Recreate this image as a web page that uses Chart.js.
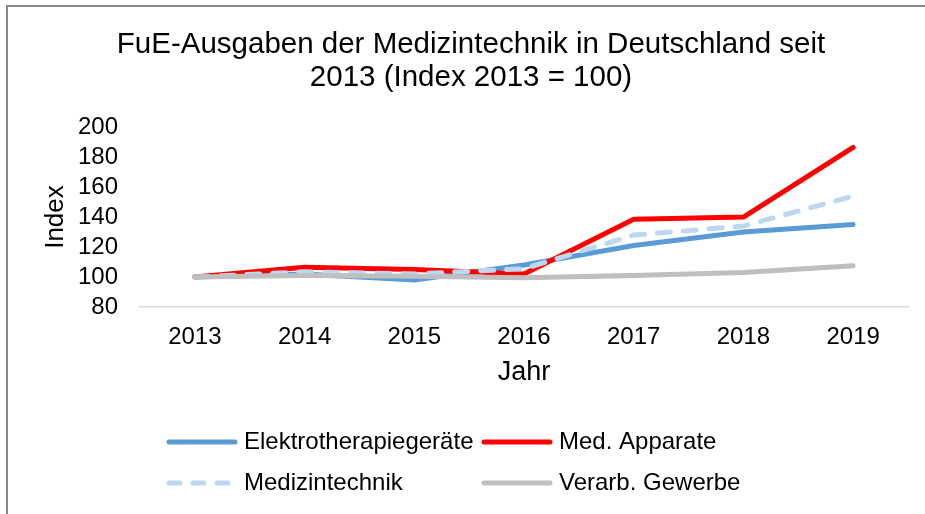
<!DOCTYPE html>
<html lang="de">
<head>
<meta charset="utf-8">
<title>FuE-Ausgaben der Medizintechnik</title>
<script src="https://cdn.jsdelivr.net/npm/chart.js@4.4.1/dist/chart.umd.min.js"></script>
<style>
    html, body { margin: 0; padding: 0; background: #fff; }
    #frame {
        position: absolute; left: 6px; top: 5px; width: 1000px; height: 600px;
        border-left: 2px solid #878787; border-top: 2px solid #878787;
    }
    #wrap { position: absolute; left: 0; top: 0; width: 925px; height: 514px; }
</style>
</head>
<body>
<div id="frame"></div>
<div id="wrap"><canvas id="fueChart"></canvas></div>
<script>
// Data
const years = ['2013', '2014', '2015', '2016', '2017', '2018', '2019'];
const elektrotherapie = [100, 102, 98, 108, 121, 130, 135];
const medApparate = [100, 106.5, 105, 102, 138.5, 140, 186.5];
const medizintechnik = [100, 103.5, 102, 105.5, 128, 134, 154];
const verarbGewerbe = [100, 101, 100.5, 99.5, 101, 103, 107.5];

const titleLines = ['FuE-Ausgaben der Medizintechnik in Deutschland seit', '2013 (Index 2013 = 100)'];
const FONT = "'Liberation Sans', Arial, sans-serif";

// Legend laid out as a 2x2 grid like in the original
const LEGEND_COLS = [166, 481];
const LEGEND_ROWS = [442, 483];
const LEGEND_LINE = 72;

const legendGrid = {
    id: 'legendGrid',
    afterDraw(chart) {
        const ctx = chart.ctx;
        ctx.save();
        chart.data.datasets.forEach((ds, i) => {
            const x = LEGEND_COLS[i % 2];
            const y = LEGEND_ROWS[Math.floor(i / 2)];
            ctx.beginPath();
            ctx.strokeStyle = ds.borderColor;
            ctx.lineWidth = ds.borderWidth;
            ctx.lineCap = 'round';
            ctx.setLineDash(ds.borderDash ? [11, 13] : []);
            ctx.moveTo(x + 3, y);
            ctx.lineTo(x + LEGEND_LINE - 3, y);
            ctx.stroke();
            ctx.setLineDash([]);
            ctx.fillStyle = '#000';
            ctx.font = `24px ${FONT}`;
            ctx.textBaseline = 'middle';
            ctx.textAlign = 'left';
            ctx.fillText(ds.label, x + LEGEND_LINE + 6, y);
        });
        ctx.restore();
    }
};

const lineStyle = { borderWidth: 5, pointRadius: 0, tension: 0, borderCapStyle: 'round', borderJoinStyle: 'round', fill: false };

new Chart(document.getElementById('fueChart'), {
    type: 'line',
    data: {
        labels: years,
        datasets: [
            { ...lineStyle, label: 'Elektrotherapiegeräte', data: elektrotherapie, borderColor: '#5B9BD5', order: 4 },
            { ...lineStyle, label: 'Med. Apparate', data: medApparate, borderColor: '#FF0000', order: 3 },
            { ...lineStyle, label: 'Medizintechnik', data: medizintechnik, borderColor: '#BDD7EE', borderDash: [13, 13], order: 2 },
            { ...lineStyle, label: 'Verarb. Gewerbe', data: verarbGewerbe, borderColor: '#BFBFBF', order: 1 }
        ]
    },
    options: {
        responsive: true,
        maintainAspectRatio: false,
        animation: false,
        layout: { padding: { left: 34, right: 17, top: 0, bottom: 110 } },
        plugins: {
            legend: { display: false },
            tooltip: { enabled: false },
            title: {
                display: true,
                text: titleLines,
                color: '#000',
                font: { family: FONT, size: 29.5, weight: 'normal', lineHeight: 1.12 },
                padding: { top: 28.5, bottom: 32.5 }
            }
        },
        scales: {
            x: {
                offset: true,
                grid: { display: false, drawTicks: false, offset: true },
                border: { display: true, color: '#D9D9D9', width: 1.5 },
                ticks: { color: '#000', font: { family: FONT, size: 24 }, padding: 16, maxRotation: 0, autoSkip: false },
                title: { display: true, text: 'Jahr', color: '#000', font: { family: FONT, size: 27 }, padding: { top: 0, bottom: 15 } },
                afterFit(scale) { scale.height = 97; }
            },
            y: {
                min: 80,
                max: 200,
                grid: { display: false, drawTicks: false },
                border: { display: false },
                ticks: { stepSize: 20, autoSkip: false, color: '#000', font: { family: FONT, size: 24 }, padding: 22 },
                title: { display: true, text: 'Index', color: '#000', font: { family: FONT, size: 26 }, padding: { top: 6.4, bottom: 0 } },
                afterFit(scale) { scale.width = 106; }
            }
        }
    },
    plugins: [legendGrid]
});
</script>
</body>
</html>
